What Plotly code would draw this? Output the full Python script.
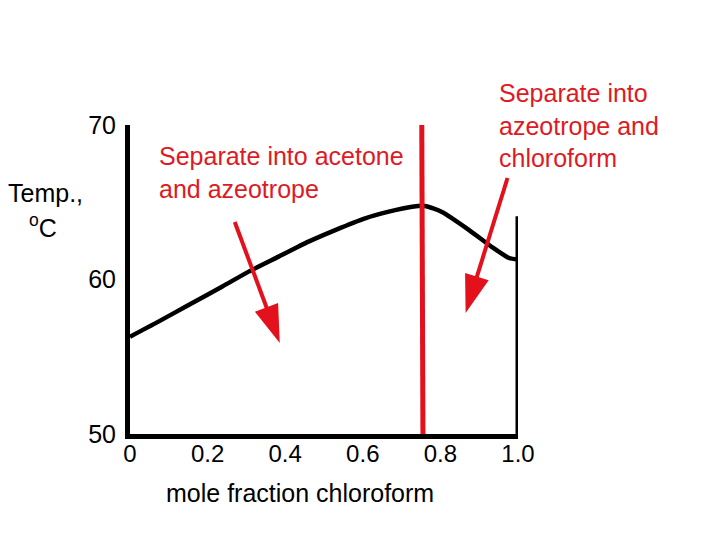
import plotly.graph_objects as go

# ---- data ----
x_chloroform = [0.0, 0.065, 0.151, 0.237, 0.306, 0.383, 0.460, 0.529, 0.606,
                0.667, 0.727, 0.760, 0.804, 0.874, 0.933, 0.977, 1.0]
temp_c = [56.3, 57.16, 58.35, 59.53, 60.51, 61.48, 62.45, 63.2, 63.96,
          64.39, 64.71, 64.76, 64.37, 63.2, 62.1, 61.39, 61.3]

wall_x = [1.0, 1.0]
wall_y = [50.0, 64.1]

azeo_x = [0.752, 0.755]
azeo_y = [70.0, 50.0]

arrow1_x = [0.270, 0.386]
arrow1_y = [63.72, 55.89]
arrow2_x = [0.973, 0.865]
arrow2_y = [66.57, 57.83]

x_ticks = [0, 0.2, 0.4, 0.6, 0.8, 1.0]
x_ticktext = ["0", "0.2", "0.4", "0.6", "0.8", "1.0"]
y_ticks = [50, 60, 70]
y_ticktext = ["50", "60", "70"]

FONT = "Liberation Sans, Arial, sans-serif"
RED = "#e3111c"
RED_TXT = "#de1a24"

fig = go.Figure()

fig.add_trace(go.Scatter(x=x_chloroform, y=temp_c, mode="lines",
                         line=dict(color="black", width=4.5, shape="spline", smoothing=0.6),
                         hoverinfo="skip"))
fig.add_trace(go.Scatter(x=wall_x, y=wall_y, mode="lines",
                         line=dict(color="black", width=5), hoverinfo="skip"))
fig.add_trace(go.Scatter(x=azeo_x, y=azeo_y, mode="lines",
                         line=dict(color=RED, width=5), hoverinfo="skip"))
for ax_, ay_ in [(arrow1_x, arrow1_y), (arrow2_x, arrow2_y)]:
    fig.add_trace(go.Scatter(x=ax_, y=ay_, mode="lines+markers", opacity=1,
                             line=dict(color=RED, width=4),
                             marker=dict(symbol="arrow", angleref="previous",
                                         size=[0, 40], color=RED, opacity=1,
                                         line=dict(width=0)),
                             cliponaxis=False, hoverinfo="skip"))

# screen pixel -> paper fraction (page body offset of 8 px included)
L, T, W, H = 122, 117, 388, 309
def px_to_paper(px, py):
    return (px - 8 - L) / W, (T + H + 8 - py) / H

annos = []
x, y = px_to_paper(157, 172)
annos.append(dict(x=x, y=y, xref="paper", yref="paper", xanchor="left", yanchor="middle",
                  align="left", showarrow=False,
                  text="Separate into acetone<br>and azeotrope",
                  font=dict(family=FONT, size=25, color=RED_TXT)))
x, y = px_to_paper(497, 125)
annos.append(dict(x=x, y=y, xref="paper", yref="paper", xanchor="left", yanchor="middle",
                  align="left", showarrow=False,
                  text="Separate into<br>azeotrope and<br>chloroform",
                  font=dict(family=FONT, size=25, color=RED_TXT)))
x, y = px_to_paper(45, 193)
annos.append(dict(x=x, y=y, xref="paper", yref="paper", xanchor="center", yanchor="middle",
                  showarrow=False, text="Temp.,",
                  font=dict(family=FONT, size=25, color="black")))
x, y = px_to_paper(43, 226)
annos.append(dict(x=x, y=y, xref="paper", yref="paper", xanchor="center", yanchor="middle",
                  showarrow=False, text="<sup>o</sup>C",
                  font=dict(family=FONT, size=25, color="black")))
x, y = px_to_paper(300, 493)
annos.append(dict(x=x, y=y, xref="paper", yref="paper", xanchor="center", yanchor="middle",
                  showarrow=False, text="mole fraction chloroform",
                  font=dict(family=FONT, size=25, color="black")))

fig.update_layout(
    width=720, height=540,
    margin=dict(l=L, r=720 - L - W, t=T, b=540 - T - H, pad=0),
    paper_bgcolor="white", plot_bgcolor="white",
    showlegend=False,
    annotations=annos,
    xaxis=dict(range=[0, 1], showgrid=False, zeroline=False, showline=True,
               linecolor="black", linewidth=5, tickvals=x_ticks, ticktext=x_ticktext,
               ticks="", tickfont=dict(family=FONT, size=24, color="black"),
               ticklabelstandoff=-6),
    yaxis=dict(range=[50, 70], showgrid=False, zeroline=False, showline=True,
               linecolor="black", linewidth=5, tickvals=y_ticks, ticktext=y_ticktext,
               ticks="", tickfont=dict(family=FONT, size=25, color="black"),
               ticklabelstandoff=4),
)

fig.write_html("out.html")
